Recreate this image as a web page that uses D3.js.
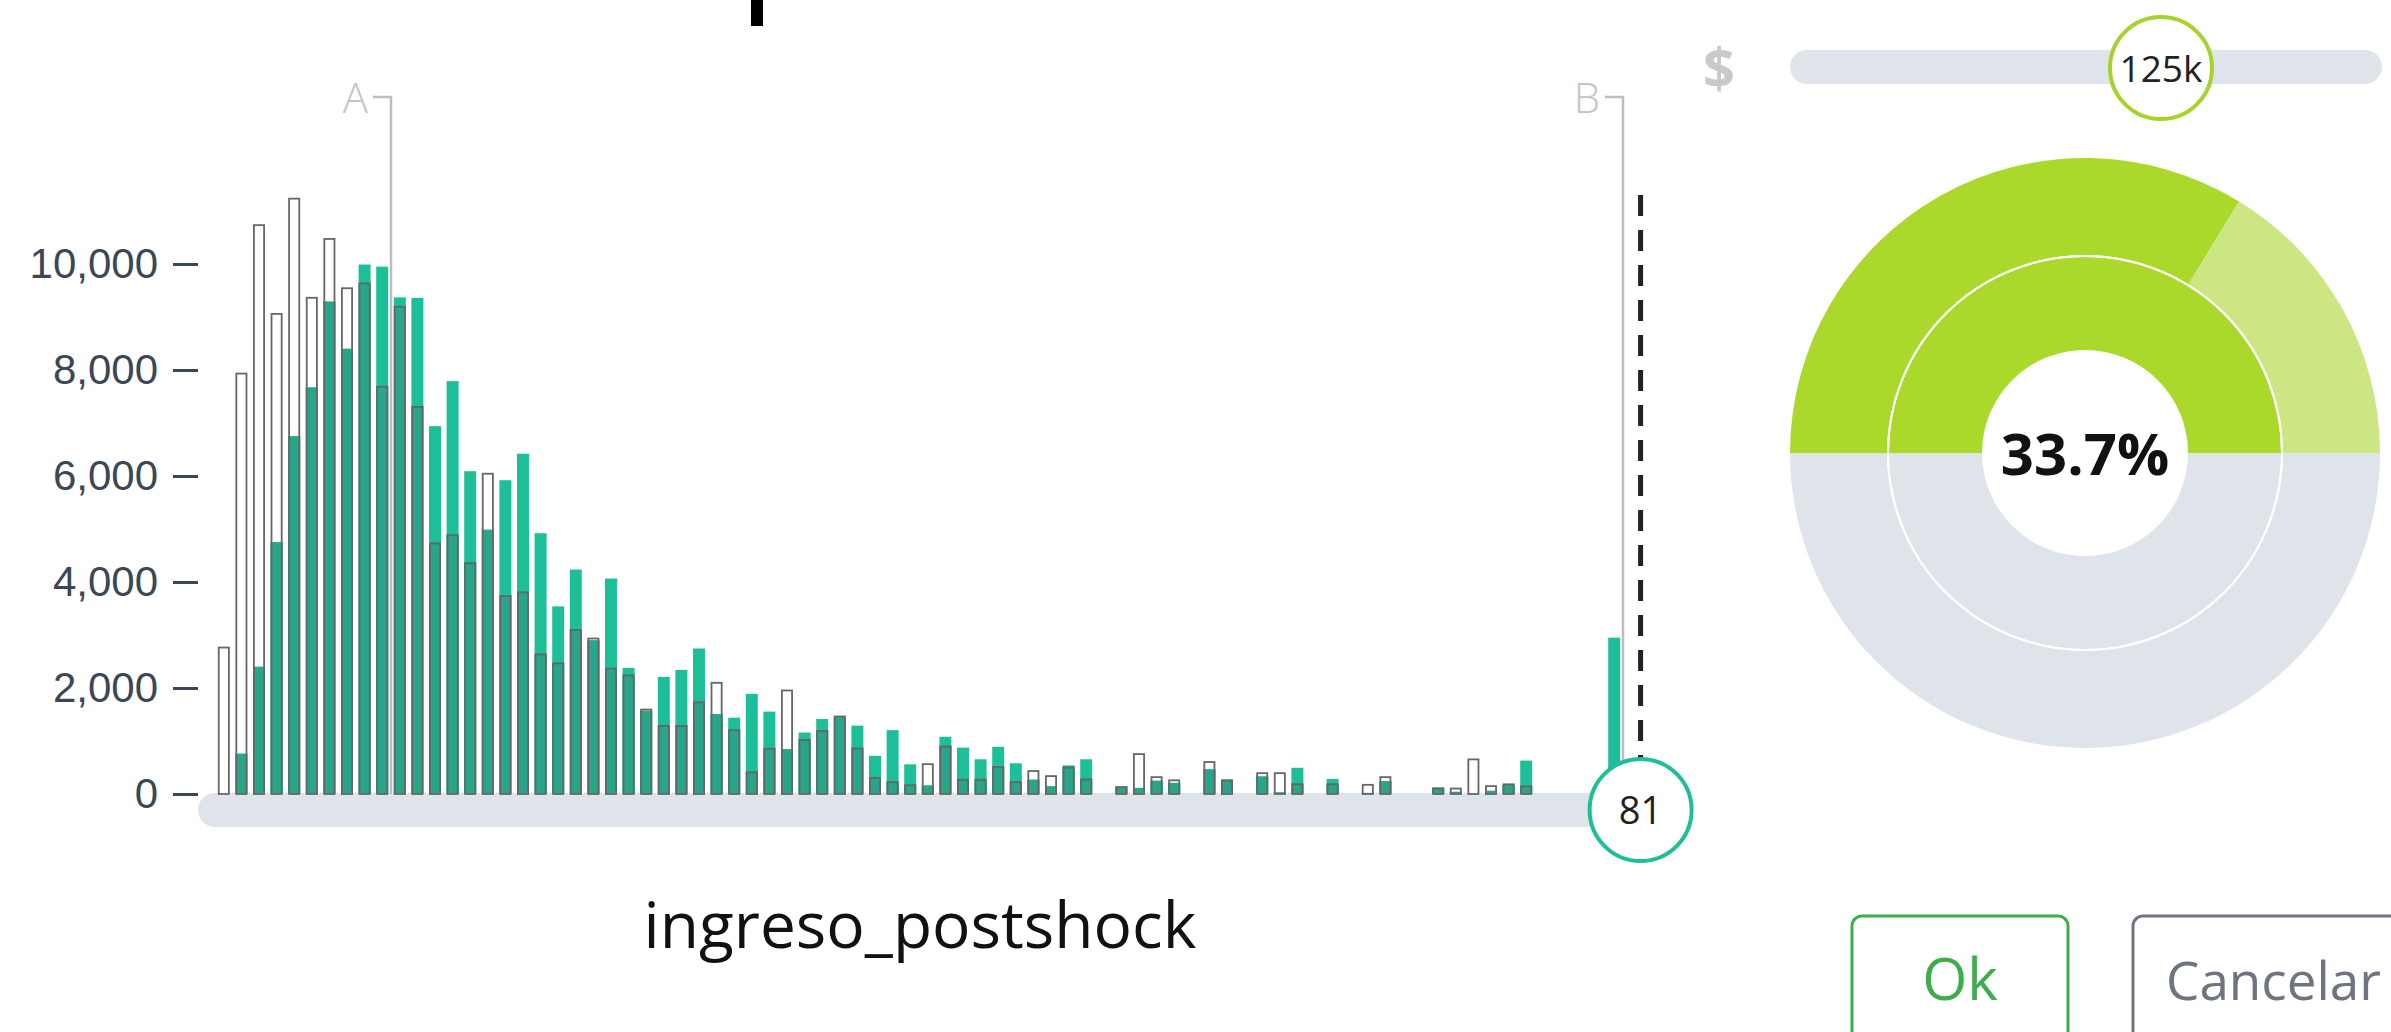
<!DOCTYPE html>
<html><head><meta charset="utf-8">
<script src="https://cdn.jsdelivr.net/npm/d3@7"></script>
<style>html,body{margin:0;padding:0;background:#fff;overflow:hidden}</style>
</head><body><svg id="c" width="2391" height="1032"></svg>
<script>
// ---- data ----
const preCounts = [2780,7950,10750,9075,11250,9380,10490,9560,9650,7700,
  9210,7320,4745,4900,4370,6060,3750,3820,2650,2480,
  3110,2950,2380,2255,1610,1300,1300,1745,2115,1220,
  425,870,1970,1035,1205,1480,875,320,240,180,
  580,910,285,285,525,240,450,355,515,290,
  0,145,770,335,275,0,620,270,0,410,
  410,200,0,200,0,190,335,0,0,120,
  120,670,165,200,160,0,0,0,0,0];
const postCounts = [0,760,2400,4750,6750,7670,9290,8400,9990,9950,
  9370,9360,6940,7790,6090,4985,5920,6420,4920,3540,
  4235,2900,4065,2380,1570,2210,2340,2745,1505,1440,
  1890,1555,845,1160,1415,1460,1290,720,1205,560,
  160,1080,875,655,890,580,270,145,540,655,
  0,140,115,250,210,0,465,275,0,330,
  30,495,0,285,0,20,240,0,0,120,
  40,0,60,170,630,0,0,0,0,2950];
const yTicks = [0,2000,4000,6000,8000,10000];
const markerA = 10, markerB = 80, sliderValue = 81;
const markerLabels = ["A","B"];
const xLabel = "ingreso_postshock";
const incomeLabel = "125k";
const outerShares = [0.675, 0.325];   // top half of outer ring: solid, light
const innerShares = [1.0];            // top half of inner ring
const centerLabel = "33.7%";
const buttonLabels = ["Ok","Cancelar"];

const svg = d3.select("#c");
const nBins = preCounts.length;
const x = d3.scaleBand().domain(d3.range(nBins)).range([215,1623]).paddingInner(0.32).paddingOuter(0.16);
const xb = d3.scaleLinear().domain([0,nBins]).range([215,1623]);
const y = d3.scaleLinear().domain([0,10000]).range([794,264]);

const GREEN="#1dbf98", DARK="#28a689", OUT="#666", TRACK="#dfe4ea";

// black mark at top
svg.append("rect").attr("x",751).attr("y",0).attr("width",12).attr("height",26).attr("fill","#000");

// slider track
const trackY = y(0)+16;
svg.append("line").attr("x1",xb(0)).attr("x2",xb(sliderValue)).attr("y1",trackY).attr("y2",trackY)
  .attr("stroke",TRACK).attr("stroke-width",34).attr("stroke-linecap","round");

// markers A, B
[markerA, markerB].forEach((m,i)=>{
  const mx = xb(m);
  const g = svg.append("g");
  g.append("path").attr("d",`M${mx-18},97H${mx}V${y(0)}`).attr("fill","none").attr("stroke","#bdbdbd").attr("stroke-width",2.5);
  g.append("text").attr("x",mx-23).attr("y",113).attr("text-anchor","end")
    .attr("font-family","Open Sans").attr("font-weight",300).attr("font-size",42).attr("fill","#c4c4c4").text(markerLabels[i]);
});

// dashed line
svg.append("line").attr("x1",xb(sliderValue)).attr("x2",xb(sliderValue)).attr("y1",195).attr("y2",trackY)
  .attr("stroke","#222").attr("stroke-width",5).attr("stroke-dasharray","21,14");

// bars
const idx = d3.range(nBins);
const bars = svg.append("g");
bars.selectAll(".pw").data(idx.filter(i=>preCounts[i]>0)).join("rect")
  .attr("x",i=>x(i)).attr("width",x.bandwidth()).attr("y",i=>y(preCounts[i])).attr("height",i=>y(0)-y(preCounts[i])).attr("fill","#fff");
bars.selectAll(".pg").data(idx.filter(i=>postCounts[i]>0)).join("rect")
  .attr("x",i=>x(i)).attr("width",x.bandwidth()).attr("y",i=>y(postCounts[i])).attr("height",i=>y(0)-y(postCounts[i])).attr("fill",GREEN);
bars.selectAll(".ov").data(idx.filter(i=>Math.min(preCounts[i],postCounts[i])>0)).join("rect")
  .attr("x",i=>x(i)).attr("width",x.bandwidth()).attr("y",i=>y(Math.min(preCounts[i],postCounts[i])))
  .attr("height",i=>y(0)-y(Math.min(preCounts[i],postCounts[i]))).attr("fill",DARK);
bars.selectAll(".po").data(idx.filter(i=>preCounts[i]>0)).join("rect")
  .attr("x",i=>x(i)+0.9).attr("width",x.bandwidth()-1.8).attr("y",i=>y(preCounts[i])+0.9).attr("height",i=>y(0)-y(preCounts[i])-0.9)
  .attr("fill","none").attr("stroke",OUT).attr("stroke-width",1.8);

// slider handle 81
svg.append("circle").attr("cx",xb(sliderValue)).attr("cy",trackY).attr("r",51).attr("fill","#fff").attr("stroke",GREEN).attr("stroke-width",4);
svg.append("text").attr("x",xb(sliderValue)).attr("y",trackY+14).attr("text-anchor","middle")
  .attr("font-family","Open Sans").attr("font-size",38).attr("fill","#222").text(sliderValue);

// y axis
const ax = svg.append("g").attr("transform","translate(198,0)")
  .call(d3.axisLeft(y).tickValues(yTicks).tickFormat(d3.format(",")).tickSize(25).tickPadding(15));
ax.select(".domain").remove();
ax.selectAll("line").attr("stroke","#3b4656").attr("stroke-width",3);
ax.selectAll("text").attr("font-family","Liberation Sans").attr("font-size",42).attr("fill","#3b4656");

// x label
svg.append("text").attr("x",920).attr("y",948).attr("text-anchor","middle")
  .attr("font-family","Open Sans").attr("font-size",64).attr("fill","#111").text(xLabel);

// right panel: $ slider
svg.append("text").attr("x",1719).attr("y",88).attr("text-anchor","middle")
  .attr("font-family","Open Sans").attr("font-weight",700).attr("font-size",56).attr("fill","#c9c9c9").text("$");
svg.append("line").attr("x1",1807).attr("x2",2365).attr("y1",67).attr("y2",67)
  .attr("stroke",TRACK).attr("stroke-width",34).attr("stroke-linecap","round");
svg.append("circle").attr("cx",2161).attr("cy",68).attr("r",51).attr("fill","#fff").attr("stroke","#a6d32a").attr("stroke-width",4);
svg.append("text").attr("x",2161).attr("y",82).attr("text-anchor","middle")
  .attr("font-family","Open Sans").attr("font-size",37).attr("fill","#222").text(incomeLabel);

// donut
const cx=2085, cy=453;
const dg = svg.append("g").attr("transform",`translate(${cx},${cy})`);
const half = d3.pie().sort(null).startAngle(-Math.PI/2).endAngle(Math.PI/2);
const rings = [{shares:outerShares, r0:198, r1:295, colors:["#abd92b","#cde684"]},
               {shares:innerShares, r0:103, r1:196, colors:["#abd92b"]}];
rings.forEach(rg=>{
  const arc = d3.arc().innerRadius(rg.r0).outerRadius(rg.r1);
  dg.selectAll(null).data(half(rg.shares)).join("path").attr("d",arc).attr("fill",(d,i)=>rg.colors[i]);
  dg.append("path").attr("d",arc({startAngle:Math.PI/2,endAngle:Math.PI*1.5})).attr("fill","#dfe3ea");
});
dg.append("circle").attr("r",197).attr("fill","none").attr("stroke","#fff").attr("stroke-width",2);
dg.append("text").attr("x",0).attr("y",22).attr("text-anchor","middle")
  .attr("font-family","Open Sans").attr("font-weight",700).attr("font-size",58).attr("fill","#111").text(centerLabel);

// buttons
const btn = [{x:1852,w:216,c:"#3cae4c"},{x:2133,w:300,c:"#6e7580"}];
buttonLabels.forEach((t,i)=>{
  svg.append("rect").attr("x",btn[i].x).attr("y",916).attr("width",btn[i].w).attr("height",140).attr("rx",10)
    .attr("fill","#fff").attr("stroke",btn[i].c).attr("stroke-width",3);
  svg.append("text").attr("x", i===0 ? btn[i].x+btn[i].w/2 : 2166).attr("y",1000)
    .attr("text-anchor", i===0 ? "middle":"start")
    .attr("font-family","Open Sans").attr("font-size", i===0 ? 58 : 53).attr("fill",btn[i].c).text(t);
});
</script></body></html>
